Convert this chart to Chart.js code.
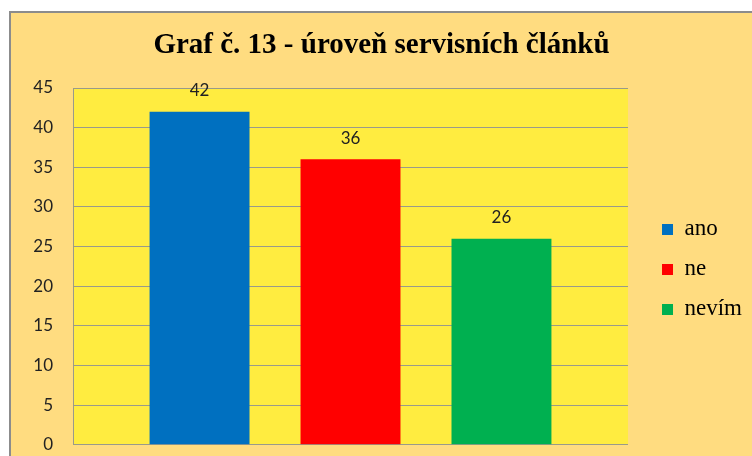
<!DOCTYPE html>
<html lang="cs">
<head>
<meta charset="UTF-8" />
<title>Graf č. 13 - úroveň servisních článků</title>
<script src="https://cdn.jsdelivr.net/npm/chart.js"></script>
<style>
  html, body {
    margin: 0;
    padding: 0;
    background: #ffffff;
    width: 752px;
    height: 456px;
    overflow: hidden;
  }
  .card {
    position: absolute;
    left: 9px;
    top: 11px;
    width: 744px;
    height: 445px;
    background: #ffdc80;
    border-left: 2px solid #8c8c8c;
    border-top: 2px solid #8c8c8c;
  }
  canvas { display: block; }
</style>
</head>
<body>
<div class="card"><canvas id="chart" width="744" height="445"></canvas></div>

<script>
  const titleText = 'Graf č. 13 - úroveň servisních článků';
  const categories = [''];
  const seriesNames = ['ano', 'ne', 'nevím'];
  const seriesValues = [42, 36, 26];
  const seriesColors = ['#0070c0', '#ff0000', '#00b050'];
  const yMin = 0, yMax = 45, yStep = 5;

  // yellow plot area behind the grid
  const plotBg = {
    id: 'plotBg',
    beforeDraw(chart) {
      const { ctx, chartArea: a } = chart;
      ctx.save();
      ctx.fillStyle = '#ffec40';
      ctx.fillRect(a.left, a.top, a.right - a.left, a.bottom - a.top);
      ctx.restore();
    }
  };

  // numbers above the bars
  const valueLabels = {
    id: 'valueLabels',
    afterDatasetsDraw(chart) {
      const ctx = chart.ctx;
      ctx.save();
      ctx.font = '17px Lato';
      ctx.fillStyle = '#222';
      ctx.textAlign = 'center';
      ctx.textBaseline = 'middle';
      chart.data.datasets.forEach((ds, i) => {
        chart.getDatasetMeta(i).data.forEach((bar, j) => {
          ctx.fillText(ds.data[j], bar.x, bar.y - 21);
        });
      });
      ctx.restore();
    }
  };

  // extra room between plot and legend
  const legendGap = 17;
  const legendShift = {
    id: 'legendShift',
    beforeInit(chart) {
      const lg = chart.legend;
      const fit = lg.fit;
      const draw = lg.draw;
      lg.fit = function () { fit.call(this); this.width += legendGap; };
      lg.draw = function () {
        this.ctx.save();
        this.ctx.translate(legendGap, 3);
        draw.call(this);
        this.ctx.restore();
      };
    }
  };

  const datasets = seriesNames.map((name, i) => ({
    label: name,
    data: [seriesValues[i]],
    backgroundColor: seriesColors[i],
    borderWidth: 0
  }));

  new Chart(document.getElementById('chart'), {
    type: 'bar',
    data: { labels: categories, datasets },
    options: {
      responsive: false,
      animation: false,
      datasets: {
        bar: { categoryPercentage: 0.816, barPercentage: 0.662 }
      },
      layout: { padding: { left: 0, right: 3, top: 0, bottom: 6.5 } },
      scales: {
        x: { display: false },
        y: {
          min: yMin,
          max: yMax,
          ticks: {
            stepSize: yStep,
            padding: 3,
            color: '#222',
            font: { family: 'Lato', size: 17 }
          },
          grid: {
            color: '#9a9a8a',
            lineWidth: 1,
            drawTicks: true,
            tickLength: 17,
            tickColor: 'rgba(0,0,0,0)'
          },
          border: { display: true, color: '#9a9a8a', width: 1 },
          afterFit(scale) { scale.width = 62; }
        }
      },
      plugins: {
        title: {
          display: true,
          text: titleText,
          color: '#000',
          font: { family: 'Liberation Serif', size: 29, weight: 'bold' },
          padding: { top: 15, bottom: 25.2 }
        },
        legend: {
          position: 'right',
          fullSize: false,
          labels: {
            boxWidth: 11,
            boxHeight: 11,
            padding: 17,
            color: '#000',
            font: { family: 'Liberation Serif', size: 23 }
          }
        },
        tooltip: { enabled: false }
      }
    },
    plugins: [plotBg, valueLabels, legendShift]
  });
</script>
</body>
</html>
